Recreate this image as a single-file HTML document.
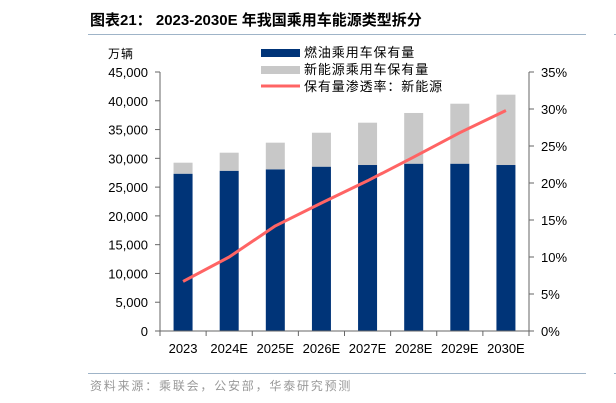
<!DOCTYPE html>
<html><head><meta charset="utf-8"><style>
body{margin:0;background:#fff;width:616px;height:403px;overflow:hidden}
svg{display:block;font-family:"Liberation Sans","Noto Sans CJK SC",sans-serif}
</style></head><body>
<svg width="616" height="403">
<text x="90" y="25" font-size="15" font-weight="bold" fill="#000">图表21：  2023-2030E  年我国乘用车能源类型拆分</text>
<line x1="88" y1="34.5" x2="586" y2="34.5" stroke="#9fb4c8" stroke-width="1"/>
<line x1="614" y1="34.5" x2="616" y2="34.5" stroke="#9fb4c8" stroke-width="1"/>
<text x="108" y="58" font-size="12" fill="#000" letter-spacing="1">万辆</text>
<g id="legend">
<rect x="261" y="49" width="39" height="8" fill="#003478"/>
<text x="304" y="57" font-size="13" fill="#000" letter-spacing="0.9">燃油乘用车保有量</text>
<rect x="261" y="66" width="39" height="8" fill="#c8c8c8"/>
<text x="304" y="74" font-size="13" fill="#000" letter-spacing="0.9">新能源乘用车保有量</text>
<line x1="261" y1="86" x2="300" y2="86" stroke="#ff6464" stroke-width="3"/>
<text x="304" y="91" font-size="13" fill="#000" letter-spacing="0.9">保有量渗透率：新能源</text>
</g>
<g id="plot"></g>
<line x1="88" y1="373.5" x2="586" y2="373.5" stroke="#9fb4c8" stroke-width="1"/>
<line x1="614" y1="373.5" x2="616" y2="373.5" stroke="#9fb4c8" stroke-width="1"/>
<text x="90" y="390" font-size="12" fill="#999" letter-spacing="1.8">资料来源：乘联会，公安部，华泰研究预测</text>
</svg>
<script>
const categories=["2023","2024E","2025E","2026E","2027E","2028E","2029E","2030E"];
const fuelValues=[27330,27840,28090,28550,28840,29070,29070,28840];
const nevValues=[1910,3140,4630,5900,7350,8810,10420,12220];
const rateValues=[6.7,10.0,14.2,17.3,20.3,23.5,26.8,29.8];
const leftTicks=["0","5,000","10,000","15,000","20,000","25,000","30,000","35,000","40,000","45,000"];
const rightTicks=["0%","5%","10%","15%","20%","25%","30%","35%"];
const NS="http://www.w3.org/2000/svg";
const g=document.getElementById('plot');
const X0=160,X1=529,Y0=331,Y1=72;
const band=(X1-X0)/categories.length;
const xc=i=>X0+band*(i+0.5);
const yL=v=>Y0-(v/45000)*(Y0-Y1);
const yR=v=>Y0-(v/35)*(Y0-Y1);
function el(t,a){const e=document.createElementNS(NS,t);for(const k in a)e.setAttribute(k,a[k]);g.appendChild(e);return e;}
categories.forEach((c,i)=>{
 const w=19,x=xc(i)-w/2;
 const b=el('rect',{x:x,y:yL(fuelValues[i]),width:w,height:Y0-yL(fuelValues[i]),fill:'#003478'});
 
 
 const n=el('rect',{x:x,y:yL(fuelValues[i]+nevValues[i]),width:w,height:yL(fuelValues[i])-yL(fuelValues[i]+nevValues[i]),fill:'#c8c8c8'});
 
 
 const t=el('text',{x:xc(i),y:Y0+22,'font-size':13,'text-anchor':'middle',fill:'#000'});
 t.textContent=c;
 
 
});
const pts=rateValues.map((v,i)=>xc(i)+','+yR(v)).join(' ');
const ln=el('polyline',{points:pts,fill:'none',stroke:'#ff6464','stroke-width':3,'stroke-linejoin':'round'});


const ax=el('path',{d:`M${X0},${Y1}V${Y0}H${X1}V${Y1}`,fill:'none',stroke:'#666','stroke-width':1});


leftTicks.forEach((s,i)=>{
 const y=yL(i*5000);
 el('line',{x1:X0-5,x2:X0,y1:y,y2:y,stroke:'#666'});
 const t=el('text',{x:X0-12,y:y+5,'font-size':13,'text-anchor':'end',fill:'#000'});
 t.textContent=s;
 
 
});
rightTicks.forEach((s,i)=>{
 const y=yR(i*5);
 el('line',{x1:X1,x2:X1+5,y1:y,y2:y,stroke:'#666'});
 const t=el('text',{x:X1+12,y:y+5,'font-size':13,fill:'#000'});
 t.textContent=s;
 
 
});
for(let i=0;i<=categories.length;i++){const x=X0+band*i;el('line',{x1:x,x2:x,y1:Y0,y2:Y0+5,stroke:'#666'});}
</script>
</body></html>
